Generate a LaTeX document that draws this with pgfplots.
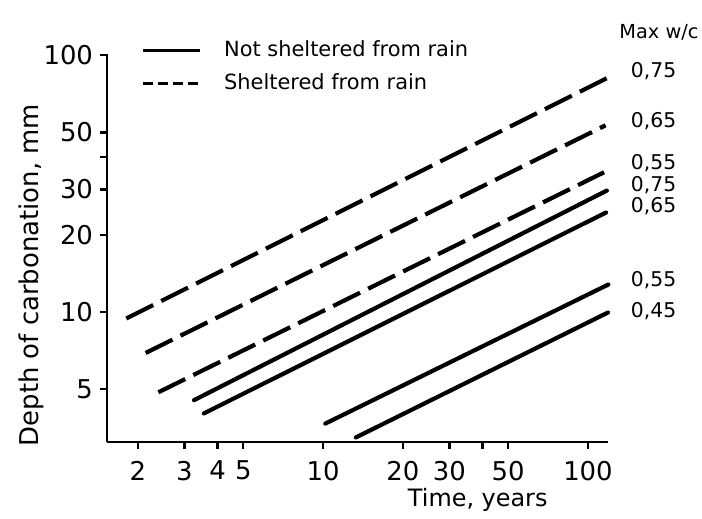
\documentclass[border=0pt]{standalone}
\usepackage{fontspec}
\setmainfont{DejaVu Sans}
\usepackage{pgfplots}
\pgfplotsset{compat=1.18}

\begin{document}
\begin{tikzpicture}
\begin{axis}[
  xmode=log, ymode=log,
  scale only axis, width=250.5bp, height=194bp,
  xmin=1.53, xmax=119, ymin=3.12, ymax=101,
  axis x line=bottom, axis y line=left,
  axis line style={-, line width=1.3bp},
  xtick={2,3,4,5,10,20,30,40,50,100},
  xticklabels={2,3,4,5,10,20,30,,50,100},
  ytick={5,10,20,30,40,50,100},
  yticklabels={5,10,20,30,,50,100},
  minor xtick={}, minor ytick={},
  tick style={line width=1.1bp, black},
  major tick length=3.5bp,
  tick align=outside,
  ticklabel style={font=\fontsize{13}{15}\selectfont},
  xticklabel style={yshift=-2.5bp},
  xlabel={Time, years},
  ylabel={Depth of carbonation, mm},
  xlabel style={at={(rel axis cs:0.74,-0.15)}, anchor=center,
                font=\fontsize{12}{14}\selectfont},
  ylabel style={at={(rel axis cs:-0.15,0.43)}, anchor=center,
                font=\fontsize{13}{15}\selectfont},
  clip=false,
  legend style={at={(rel axis cs:0.067,1.045)}, anchor=north west,
                draw=none, fill=none, inner sep=0pt, row sep=3bp,
                font=\fontsize{10.5}{12}\selectfont,
                /tikz/every odd column/.append style={column sep=9.5bp}},
  legend cell align=left,
  legend image code/.code={\draw[#1, line width=1.6bp] (0bp,0bp) -- (28.5bp,0bp);},
  every axis plot/.append style={black, line width=2.1bp},
]
\addlegendimage{solid}
\addlegendentry{Not sheltered from rain}
\addlegendimage{dash pattern=on 5bp off 2.6bp}
\addlegendentry{Sheltered from rain}

% sheltered from rain (dashed)
\addplot[dash pattern=on 15bp off 4.5bp, forget plot] coordinates {(1.81,9.44) (120,82.1)};
\addplot[dash pattern=on 15bp off 4.5bp, forget plot] coordinates {(2.14,6.93) (116.5,53.3)};
\addplot[dash pattern=on 15bp off 4.5bp, forget plot] coordinates {(2.39,4.87) (115,35.0)};
% not sheltered (solid)
\addplot[line cap=round, forget plot] coordinates {(3.26,4.54) (117.8,29.7)};
\addplot[line cap=round, forget plot] coordinates {(3.55,4.03) (117,24.4)};
\addplot[line cap=round, forget plot] coordinates {(10.2,3.68) (119.4,12.8)};
\addplot[line cap=round, forget plot] coordinates {(13.3,3.25) (119,9.96)};

\begin{scope}[every node/.style={anchor=west, inner sep=0pt, font=\fontsize{10.2}{12}\selectfont}]
\node[font=\fontsize{9.7}{12}\selectfont] at (rel axis cs:1.022,1.055) {Max w/c};
\node at (rel axis cs:1.045,0.956) {0,75};
\node at (rel axis cs:1.045,0.827) {0,65};
\node at (rel axis cs:1.045,0.719) {0,55};
\node at (rel axis cs:1.045,0.662) {0,75};
\node at (rel axis cs:1.045,0.608) {0,65};
\node at (rel axis cs:1.045,0.417) {0,55};
\node at (rel axis cs:1.045,0.338) {0,45};
\end{scope}
\coordinate (O) at (rel axis cs:0,0);
\coordinate (T) at (rel axis cs:1,1);
\end{axis}
\path ([shift={(-53.5bp,-36.5bp)}]O) rectangle ([shift={(47bp,27bp)}]T);
\end{tikzpicture}
\end{document}
